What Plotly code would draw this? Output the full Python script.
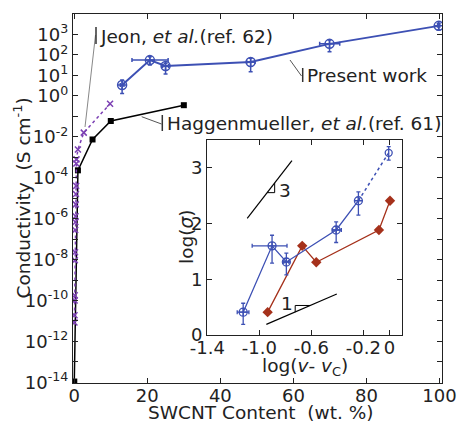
import plotly.graph_objects as go

# ---------------- data: main plot ----------------
present_x = [13.1, 20.7, 25.0, 48.3, 69.9, 99.8]
present_y = [3.4, 56.0, 29.0, 45.0, 347.0, 2630.0]
present_y_plus = [2.5, 25.0, 10.0, 24.0, 190.0, 920.0]
present_y_minus = [2.1, 24.0, 17.3, 30.0, 202.0, 970.0]
present_x_plus = [0.5, 5.0, 0.8, 1.2, 2.8, 0.3]
present_x_minus = [0.5, 4.9, 0.8, 1.1, 2.7, 0.3]

hagg_x = [0.0, 1.0, 5.0, 10.0, 30.0]
hagg_y = [1.1e-14, 2.3e-4, 7.4e-3, 5.9e-2, 0.35]

jeon_x = [0.05, 0.07, 0.10, 0.12, 0.15, 0.20, 0.25, 0.30, 0.35, 0.40, 0.45,
          0.50, 0.55, 0.60, 1.0, 2.6, 9.8]
jeon_y = [8.5e-12, 1.9e-11, 1.0e-10, 1.8e-10, 9.3e-9, 2.3e-8, 2.8e-7, 6.8e-7,
          1.3e-6, 5.0e-6, 1.6e-5, 4.0e-5, 5.0e-4, 7.9e-4, 2.4e-3, 1.6e-2, 0.41]

y_tick_exps = list(range(-14, 4))
y_tick_text = ["10<sup>-14</sup>", "", "10<sup>-12</sup>", "", "10<sup>-10</sup>", "",
               "10<sup>-8</sup>", "", "10<sup>-6</sup>", "", "10<sup>-4</sup>", "",
               "10<sup>-2</sup>", "", "10<sup>0</sup>", "10<sup>1</sup>",
               "10<sup>2</sup>", "10<sup>3</sup>"]
x_ticks = [0, 20, 40, 60, 80, 100]

# ---------------- data: inset ----------------
in_blue_x = [-1.124, -0.902, -0.792, -0.409, -0.238, -0.005]
in_blue_y = [0.41, 1.60, 1.31, 1.885, 2.41, 3.27]
in_blue_y_plus = [0.16, 0.19, 0.16, 0.145, 0.16, 0.11]
in_blue_y_minus = [0.22, 0.31, 0.23, 0.225, 0.26, 0.13]
in_blue_x_plus = [0.044, 0.115, 0.02, 0.04, 0.0, 0.0]
in_blue_x_minus = [0.046, 0.153, 0.02, 0.03, 0.0, 0.0]

in_red_x = [-0.936, -0.67, -0.562, -0.08, 0.005]
in_red_y = [0.41, 1.60, 1.305, 1.885, 2.41]

slope3_x = [-1.093, -0.749]
slope3_y = [2.095, 3.13]
tri3_x = [-0.94, -0.882, -0.882]
tri3_y = [2.555, 2.555, 2.73]
slope1_x = [-0.946, -0.404]
slope1_y = [0.19, 0.735]
tri1_x = [-0.724, -0.724, -0.608]
tri1_y = [0.41, 0.53, 0.53]

in_x_ticks = [-1.4, -1.0, -0.6, -0.2, 0]
in_x_text = ["-1.4", "-1.0", "-0.6", "-0.2", "0"]
in_y_ticks = [0, 1, 2, 3]

BLUE = "#3d50b4"
RED = "#a5311b"
PURPLE = "#7b3fb3"
FONT = "DejaVu Sans"
FS = 18.5

W, H = 459, 425
L, R, T, B = 73, 442, 14, 383


def px(x, y):
    return (x - L) / (R - L), (B - y) / (B - T)


fig = go.Figure()

# Haggenmueller (black squares)
fig.add_trace(go.Scatter(x=hagg_x, y=hagg_y, mode="lines+markers",
                         line=dict(color="black", width=1.5),
                         marker=dict(symbol="square", size=6, color="black"),
                         xaxis="x", yaxis="y", showlegend=False))
# Jeon (purple x, dotted)
fig.add_trace(go.Scatter(x=jeon_x, y=jeon_y, mode="lines+markers",
                         line=dict(color=PURPLE, width=1.5, dash="dot"),
                         marker=dict(symbol="x-thin", size=6, color=PURPLE,
                                     line=dict(color=PURPLE, width=1.5)),
                         xaxis="x", yaxis="y", showlegend=False))
# Present work
fig.add_trace(go.Scatter(x=present_x, y=present_y, mode="lines+markers",
                         line=dict(color=BLUE, width=2),
                         marker=dict(symbol="circle-cross-open", size=9, color=BLUE,
                                     line=dict(color=BLUE, width=1.5)),
                         error_y=dict(type="data", symmetric=False, array=present_y_plus,
                                      arrayminus=present_y_minus, color=BLUE,
                                      thickness=1.5, width=2),
                         error_x=dict(type="data", symmetric=False, array=present_x_plus,
                                      arrayminus=present_x_minus, color=BLUE,
                                      thickness=1.5, width=2),
                         xaxis="x", yaxis="y", showlegend=False))

# ---------- inset ----------
fig.add_trace(go.Scatter(x=slope3_x, y=slope3_y, mode="lines",
                         line=dict(color="black", width=1.2),
                         xaxis="x2", yaxis="y2", showlegend=False))
fig.add_trace(go.Scatter(x=tri3_x, y=tri3_y, mode="lines",
                         line=dict(color="black", width=1),
                         xaxis="x2", yaxis="y2", showlegend=False))
fig.add_trace(go.Scatter(x=slope1_x, y=slope1_y, mode="lines",
                         line=dict(color="black", width=1.2),
                         xaxis="x2", yaxis="y2", showlegend=False))
fig.add_trace(go.Scatter(x=tri1_x, y=tri1_y, mode="lines",
                         line=dict(color="black", width=1),
                         xaxis="x2", yaxis="y2", showlegend=False))

fig.add_trace(go.Scatter(x=in_red_x, y=in_red_y, mode="lines+markers",
                         line=dict(color=RED, width=1.3),
                         marker=dict(symbol="diamond", size=8, color=RED),
                         xaxis="x2", yaxis="y2", showlegend=False))
# blue dotted extension
fig.add_trace(go.Scatter(x=in_blue_x[4:], y=in_blue_y[4:], mode="lines",
                         line=dict(color=BLUE, width=1.5, dash="dot"),
                         xaxis="x2", yaxis="y2", showlegend=False))
fig.add_trace(go.Scatter(x=in_blue_x[:5], y=in_blue_y[:5], mode="lines+markers",
                         line=dict(color=BLUE, width=1.3),
                         marker=dict(symbol="circle-cross-open", size=8, color=BLUE,
                                     line=dict(color=BLUE, width=1.3)),
                         error_y=dict(type="data", symmetric=False, array=in_blue_y_plus[:5],
                                      arrayminus=in_blue_y_minus[:5], color=BLUE,
                                      thickness=1.3, width=2),
                         error_x=dict(type="data", symmetric=False, array=in_blue_x_plus[:5],
                                      arrayminus=in_blue_x_minus[:5], color=BLUE,
                                      thickness=1.3, width=2),
                         xaxis="x2", yaxis="y2", showlegend=False))
fig.add_trace(go.Scatter(x=in_blue_x[5:], y=in_blue_y[5:], mode="markers",
                         marker=dict(symbol="circle-open", size=7, color=BLUE,
                                     line=dict(color=BLUE, width=1.3)),
                         error_y=dict(type="data", symmetric=False, array=in_blue_y_plus[5:],
                                      arrayminus=in_blue_y_minus[5:], color=BLUE,
                                      thickness=1.3, width=2),
                         xaxis="x2", yaxis="y2", showlegend=False))

axis_common = dict(showline=True, linecolor="#222", linewidth=1.3, mirror="ticks",
                   ticks="inside", ticklen=5, tickwidth=1, tickcolor="#222",
                   showgrid=False, zeroline=False, automargin=False,
                   tickfont=dict(family=FONT, size=18, color="#222"))

ix0, iy1 = px(207.3, 140)
ix1, iy0 = px(401.7, 335)

fig.update_layout(
    width=W, height=H,
    margin=dict(l=L, r=W - R, t=T, b=H - B),
    paper_bgcolor="white", plot_bgcolor="white",
    font=dict(family=FONT, size=FS, color="#222"),
    xaxis=dict(range=[-0.35, 100.7], tickvals=x_ticks, ticklabelstandoff=-4, **axis_common),
    yaxis=dict(type="log", range=[-14.03, 4.0],
               tickvals=[10.0 ** e for e in y_tick_exps], ticktext=y_tick_text,
               **axis_common),
    xaxis2=dict(domain=[ix0, ix1], anchor="y2", range=[-1.4, 0.095],
                tickvals=in_x_ticks, ticktext=in_x_text, ticklabelstandoff=-4,
                **axis_common),
    yaxis2=dict(domain=[iy0, iy1], anchor="x2", range=[0, 3.5],
                tickvals=in_y_ticks, **axis_common),
)

shapes = []
# leader lines
for (x0, y0, x1, y1, c, w) in [
    (85, 127, 95.5, 35, "#888", 1), (96, 27, 96, 44, "#333", 1.5),
    (290, 60, 301.5, 76, "#555", 1), (302.7, 68, 302.7, 82, "#333", 1.5),
    (141.7, 116.7, 161.5, 124, "#555", 1), (162.3, 115, 162.3, 131, "#333", 1.5),
]:
    a, b = px(x0, y0)
    c2, d = px(x1, y1)
    shapes.append(dict(type="line", xref="paper", yref="paper", x0=a, y0=b, x1=c2, y1=d,
                       line=dict(color=c, width=w)))
fig.update_layout(shapes=shapes)

annos = []
for (x, y, txt) in [
    (98, 36, "Jeon, <i>et al.</i>(ref. 62)"),
    (305, 75, "Present work"),
    (165, 123, "Haggenmueller, <i>et al.</i>(ref. 61)"),
]:
    a, b = px(x, y)
    annos.append(dict(x=a, y=b, xref="paper", yref="paper", text=txt, showarrow=False,
                      xanchor="left", yanchor="middle", font=dict(size=FS)))

# inset slope labels
annos.append(dict(x=-0.80, y=2.6, xref="x2", yref="y2", text="3", showarrow=False,
                  xanchor="center", yanchor="middle", font=dict(size=FS)))
annos.append(dict(x=-0.79, y=0.57, xref="x2", yref="y2", text="1", showarrow=False,
                  xanchor="center", yanchor="middle", font=dict(size=FS)))

# axis titles
for (x, y, txt, ang) in [
    (22, 198.5, "Conductivity  (S cm<sup>-1</sup>)", -90),
    (260, 412, "SWCNT Content  (wt. %)", 0),
    (305, 367, "log(<i>v</i>- <i>v</i><sub>C</sub>)", 0),
    (186, 237, "log(<i>σ</i>)", -90),
]:
    a, b = px(x, y)
    annos.append(dict(x=a, y=b, xref="paper", yref="paper", textangle=ang, showarrow=False,
                      xanchor="center", yanchor="middle", text=txt, font=dict(size=FS)))
fig.update_layout(annotations=annos)

fig.write_html("out.html", config={"displayModeBar": False},
               post_script="document.body.style.margin='0px';document.body.style.overflow='hidden';")
